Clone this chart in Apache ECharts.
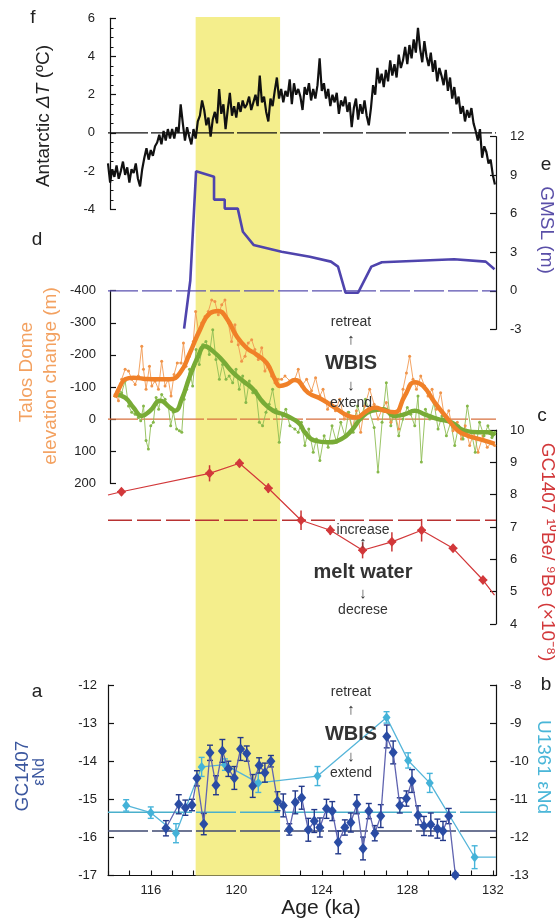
<!DOCTYPE html>
<html>
<head>
<meta charset="utf-8">
<script src="https://cdn.jsdelivr.net/npm/echarts@6/dist/echarts.min.js"></script>
<style>
  html, body { margin: 0; padding: 0; background: #fff; }
  #chart { width: 556px; height: 920px; }
</style>
</head>
<body>
<div id="chart"></div>
<script>
// ---------------- data ----------------
const ageMin = 114;
const ageMax = 132.15;
const bandAge = [118.1, 122.05];

// f: Antarctic dT, one value every 0.1 ka from 114.0 ka
const tempStart = 114.0;
const tempStep = 0.1;
const tempValues = [
  -1.6, -2.6, -1.9, -2.3, -1.7, -2.4, -2.0, -1.5, -2.2, -1.8,
  -2.6, -1.9, -2.1, -1.6, -2.4, -2.8, -1.9, -1.3, -0.8, -1.4,
  -0.9, -1.2, -0.7, -0.5, -0.1, -0.6, 0.1, -0.4, 0.2, -0.3,
  0.2, -0.3, 0.3, 0.0, 1.5, 0.5, -0.4, 0.3, -0.2, -0.6,
  0.2, -0.3, 0.6, 0.9, 1.7, 1.2, 0.4, 0.8, -0.2, 0.7,
  1.1, 0.5, 2.3, 1.0, 1.5, 0.2, 1.2, 2.1, 0.9, 1.4,
  0.8, 1.6, 1.1, 1.7, 1.3, 1.5, 1.9, 1.2, 1.6, 2.0,
  1.4, 3.0, 1.6, 1.9, 1.1, 0.6, 1.8, 1.4, 2.2, 2.9,
  1.8, 2.3, 1.6, 2.2, 1.9, 2.8, 1.5, 2.6, 2.0, 2.3,
  1.9, 1.2, 2.4, 2.0, 2.6, 1.7, 2.3, 1.8, 2.5, 3.9,
  2.2, 2.6, 1.8, 2.3, 1.4, 2.0, 1.6, 2.1, 1.0, 1.7,
  1.4, 1.9, 1.1, 1.6, 0.3, 1.3, 1.8, 0.7, 1.5, 1.0,
  1.7, 0.9, 0.4, 1.3, 2.5, 2.0, 3.4, 2.6, 3.1, 2.4,
  3.3, 2.7, 3.8, 3.0, 3.6, 2.9, 4.1, 3.4, 3.8, 4.5,
  3.6, 4.6, 3.9, 4.9, 4.2, 5.5, 4.4, 3.7, 4.8, 4.0,
  3.5, 4.2, 3.2, 3.8, 2.7, 3.4, 3.0, 2.5, 3.3, 2.2,
  2.9, 1.8, 2.4, 1.5, 1.9, 1.0, 1.4, 0.6, 1.2, 0.8,
  1.3, 0.5, 0.1, -0.4, 0.2, -1.3, -0.7, -1.0, -1.6, -1.4,
  -2.2, -2.7
];

// e: GMSL (m)
const gmsl = [
  [117.56, -2.95], [117.85, 0.8], [118.12, 9.3], [118.96, 8.88], [118.96, 7.1],
  [119.46, 7.1], [119.46, 6.4], [120.07, 6.4], [120.31, 4.6], [120.81, 3.57],
  [122.12, 3.04], [123.44, 2.65], [124.43, 2.27], [124.76, 1.88], [125.11, -0.15],
  [125.7, -0.15], [126.32, 1.88], [126.81, 2.22], [130.19, 2.45], [131.67, 2.27],
  [132.08, 1.67]
];

// d: Talos Dome elevation change (m)
const orangeRaw = [
  [114.33, -77], [114.49, -57], [114.64, -124], [114.80, -155], [114.96, -150], [115.11, -124],
  [115.27, -108], [115.42, -134], [115.58, -227], [115.66, -155], [115.78, -93], [115.94, -165],
  [116.05, -103], [116.20, -119], [116.36, -93], [116.51, -180], [116.67, -103], [116.82, -124],
  [116.95, -72], [117.09, -139], [117.24, -175], [117.42, -175], [117.53, -237], [117.65, -165],
  [117.81, -196], [117.99, -242], [118.10, -335], [118.23, -273], [118.38, -299], [118.54, -320],
  [118.69, -335], [118.85, -371], [119.00, -366], [119.16, -325], [119.32, -356], [119.47, -371],
  [119.63, -299], [119.78, -242], [119.94, -294], [120.09, -232], [120.25, -180], [120.41, -196],
  [120.56, -237], [120.72, -247], [120.87, -217], [121.03, -186], [121.19, -222], [121.34, -150],
  [121.50, -170], [121.65, -134], [121.81, -113], [121.96, -124], [122.12, -124], [122.28, -134],
  [122.51, -119], [122.74, -124], [122.90, -155], [123.05, -103], [123.29, -124], [123.52, -88],
  [123.71, -129], [123.91, -72], [124.06, -93], [124.27, -31], [124.45, -52], [124.64, -26],
  [124.84, -62], [125.05, 0], [125.23, -21], [125.42, 31], [125.62, -26], [125.82, 41],
  [126.01, -41], [126.24, -93], [126.45, -46], [126.63, 0], [126.82, -31], [127.02, -52],
  [127.23, 10], [127.41, -21], [127.60, 31], [127.80, -93], [127.96, -144], [128.11, -196],
  [128.27, -124], [128.43, -93], [128.63, -134], [128.81, -103], [128.97, -72], [129.16, -93],
  [129.36, -31], [129.56, -82], [129.75, 0], [129.94, -26], [130.14, 36], [130.34, 10],
  [130.53, 62], [130.71, 21], [130.92, 82], [131.12, 41], [131.31, 103], [131.54, 52],
  [131.74, 88], [131.96, 72], [132.09, 82]
];
const orangeSmooth = [
  [114.33, -67], [114.55, -100], [114.8, -124], [115.19, -129], [115.65, -126], [116.28, -124],
  [116.9, -124], [117.37, -144], [117.83, -206], [118.3, -278], [118.77, -330], [119.16, -337],
  [119.55, -314], [120.02, -258], [120.48, -222], [120.95, -201], [121.42, -175], [121.81, -124],
  [122.04, -103], [122.35, -108], [122.74, -122], [123.36, -82], [123.99, -62], [124.61, -36],
  [125.23, -10], [125.62, -5], [126.01, -21], [126.48, -36], [126.95, -26], [127.41, -21],
  [127.88, -72], [128.35, -115], [128.74, -103], [129.28, -52], [129.9, 0], [130.37, 36],
  [130.84, 52], [131.46, 64], [132.09, 77]
];
const greenRaw = [
  [114.33, -72], [114.49, -93], [114.64, -82], [114.80, -119], [114.96, -41], [115.11, -21],
  [115.27, -15], [115.42, -5], [115.53, 5], [115.66, -41], [115.78, 67], [115.89, 93],
  [116.00, 21], [116.12, 10], [116.25, -67], [116.37, -31], [116.51, -77], [116.67, -62],
  [116.82, -41], [116.93, 21], [117.06, -21], [117.21, 31], [117.34, 36], [117.45, 41],
  [117.56, -62], [117.68, -93], [117.81, -155], [117.96, -103], [118.12, -217], [118.27, -170],
  [118.43, -232], [118.58, -242], [118.74, -201], [118.90, -278], [119.05, -186], [119.21, -124],
  [119.36, -170], [119.52, -124], [119.67, -134], [119.83, -113], [119.99, -155], [120.14, -93],
  [120.30, -134], [120.45, -52], [120.61, -119], [120.77, -82], [120.92, -88], [121.08, 10],
  [121.23, 21], [121.39, -21], [121.54, -46], [121.70, -93], [121.85, -31], [122.01, 72],
  [122.17, -10], [122.32, -31], [122.51, 21], [122.74, 31], [122.90, 41], [123.05, 10],
  [123.21, 82], [123.39, 31], [123.60, 103], [123.75, 62], [123.91, 129], [124.11, 52],
  [124.30, 88], [124.48, 21], [124.69, 72], [124.89, 10], [125.08, 52], [125.26, -21],
  [125.47, 41], [125.67, -41], [125.86, 0], [126.04, -62], [126.24, -21], [126.45, 26],
  [126.63, 165], [126.82, 10], [127.02, -113], [127.23, 21], [127.41, -21], [127.60, 52],
  [127.80, 0], [128.00, -36], [128.16, -15], [128.35, 21], [128.50, -72], [128.66, 134],
  [128.85, -31], [129.05, 0], [129.25, -52], [129.44, 31], [129.62, -10], [129.83, 52],
  [130.03, 10], [130.22, 82], [130.40, 21], [130.61, 62], [130.81, -41], [131.00, 41],
  [131.18, 103], [131.38, 10], [131.59, 52], [131.77, 21], [131.96, 57], [132.09, 41]
];
const greenSmooth = [
  [114.33, -77], [114.8, -67], [115.19, -36], [115.58, -10], [115.97, -26], [116.44, -57],
  [116.9, -36], [117.14, -26], [117.45, -62], [117.83, -134], [118.22, -196], [118.53, -227],
  [118.92, -211], [119.39, -180], [119.86, -144], [120.33, -118], [120.79, -93], [121.26, -52],
  [121.73, -26], [122.2, -15], [122.66, 0], [122.97, 15], [123.21, 41], [123.67, 67],
  [124.3, 72], [124.92, 62], [125.39, 36], [125.86, -5], [126.32, -26], [126.87, -31],
  [127.41, -10], [127.88, -15], [128.35, -26], [128.81, -15], [129.44, 0], [130.06, 10],
  [130.68, 36], [131.31, 41], [131.77, 41], [132.09, 52]
];

// c: GC1407 10Be/9Be (x1e-8)
const beData = [
  [114.63, 8.09], [118.75, 8.66], [120.15, 8.97], [121.5, 8.2], [123.03, 7.21], [124.4, 6.9],
  [125.91, 6.28], [127.28, 6.54], [128.67, 6.9], [130.14, 6.34], [131.54, 5.36]
];
const beErrY = [0.12, 0.25, 0.12, 0.15, 0.3, 0.15, 0.25, 0.3, 0.35, 0.1, 0.1];
const beErrX = 0.2;
const beLineStart = [114.0, 7.99];
const beLineEnd = [132.08, 4.89];
const beRef = 7.21;

// a: GC1407 eNd
const gcNd = [
  [116.71, -15.76], [117.31, -15.13], [117.62, -15.22], [117.93, -15.15], [118.16, -14.45],
  [118.48, -15.65], [118.77, -13.78], [119.05, -14.63], [119.35, -13.73], [119.63, -14.20],
  [119.91, -14.44], [120.20, -13.68], [120.49, -13.80], [120.77, -14.65], [121.07, -14.11],
  [121.34, -14.30], [121.62, -14.00], [121.93, -15.05], [122.20, -15.16], [122.48, -15.79],
  [122.76, -15.08], [123.06, -14.96], [123.37, -15.80], [123.65, -15.57], [123.91, -15.74],
  [124.22, -15.25], [124.49, -15.31], [124.77, -16.13], [125.08, -15.74], [125.36, -15.61],
  [125.64, -15.13], [125.93, -16.29], [126.20, -15.31], [126.48, -15.89], [126.76, -15.44],
  [127.04, -13.35], [127.34, -13.77], [127.65, -15.16], [127.96, -14.98], [128.22, -14.52],
  [128.50, -15.42], [128.78, -15.70], [129.10, -15.66], [129.41, -15.77], [129.67, -15.83],
  [129.94, -15.44], [130.25, -16.99]
];
const gcNdErr = [
  0.2, 0.25, 0.2, 0.15, 0.2, 0.28, 0.2, 0.25, 0.3, 0.2,
  0.3, 0.3, 0.2, 0.3, 0.2, 0.25, 0.15, 0.25, 0.3, 0.15,
  0.3, 0.3, 0.3, 0.3, 0.25, 0.25, 0.25, 0.3, 0.2, 0.25,
  0.25, 0.3, 0.2, 0.2, 0.3, 0.3, 0.3, 0.2, 0.2, 0.3,
  0.25, 0.25, 0.3, 0.25, 0.25, 0.2, 0.05
];
const gcNdRef = -15.83;

// b: U1361 eNd
const uNd = [
  [114.85, -11.16], [116.0, -11.35], [117.18, -11.89], [118.38, -10.15], [119.47, -10.09],
  [121.03, -10.57], [123.80, -10.39], [127.03, -8.85], [128.04, -9.98], [129.05, -10.57],
  [131.15, -12.52]
];
const uNdErr = [0.15, 0.15, 0.25, 0.25, 0.15, 0.25, 0.25, 0.15, 0.2, 0.25, 0.3];
const uNdEnd = [132.15, -12.52];
const uNdRef = -11.34;

// ---------------- chart ----------------
const FONT = "'Liberation Sans', Arial, Helvetica, sans-serif";
const chart = echarts.init(document.getElementById('chart'), null, { renderer: 'canvas' });

const tempSeries = tempValues.map((v, i) => [+(tempStart + i * tempStep).toFixed(2), v]);

function hLine(y, xi, yi, color, dash, width) {
  return {
    type: 'line', xAxisIndex: xi, yAxisIndex: yi, silent: true, symbol: 'none', z: 3,
    data: [[ageMin, y], [ageMax, y]],
    lineStyle: { color: color, type: dash, width: width }
  };
}

// error bars drawn through the axes
function errorBars(color, cap, lw) {
  return function (params, api) {
    const x = api.value(0), y = api.value(1), ey = api.value(2), ex = api.value(3);
    const st = { stroke: color, lineWidth: lw };
    const a = api.coord([x, y - ey]), b = api.coord([x, y + ey]);
    const kids = [{ type: 'line', shape: { x1: a[0], y1: a[1], x2: b[0], y2: b[1] }, style: st }];
    if (cap) {
      kids.push({ type: 'line', shape: { x1: a[0] - cap, y1: a[1], x2: a[0] + cap, y2: a[1] }, style: st });
      kids.push({ type: 'line', shape: { x1: b[0] - cap, y1: b[1], x2: b[0] + cap, y2: b[1] }, style: st });
    }
    if (ex) {
      const c = api.coord([x - ex, y]), d = api.coord([x + ex, y]);
      kids.push({ type: 'line', shape: { x1: c[0], y1: c[1], x2: d[0], y2: d[1] }, style: st });
    }
    return { type: 'group', children: kids };
  };
}

const axisColor = '#111';
const labelStyle = { fontFamily: FONT, fontSize: 13, color: '#222' };
function yAx(o) {
  return Object.assign({
    type: 'value',
    axisLine: { show: true, lineStyle: { color: axisColor, width: 1.2 } },
    axisTick: { show: true, inside: true, length: 6, lineStyle: { color: axisColor, width: 1.2 } },
    axisLabel: Object.assign({ margin: 14 }, labelStyle),
    splitLine: { show: false }
  }, o);
}
const xHidden = (g) => ({ type: 'value', gridIndex: g, min: ageMin, max: ageMax, show: false });

function txt(x, y, text, size, color, opts) {
  return Object.assign({
    type: 'text', x: x, y: y, silent: true, z: 50,
    style: Object.assign({
      text: text, fill: color, font: (opts && opts.weight ? opts.weight + ' ' : '') + size + 'px ' + FONT,
      align: 'center', verticalAlign: 'middle', textAlign: 'center', textVerticalAlign: 'middle'
    }, opts && opts.style)
  }, opts && opts.el);
}

const option = {
  animation: false,
  backgroundColor: '#fff',
  grid: [
    { left: 108, right: 60, top: 17, height: 858.5 },   // 0 band
    { left: 108, right: 60, top: 18.3, height: 191 },   // 1 f
    { left: 108, right: 60, top: 136.7, height: 192.6 },// 2 e
    { left: 108, right: 60, top: 290.7, height: 192.6 },// 3 d
    { left: 108, right: 60, top: 430, height: 194 },    // 4 c
    { left: 108, right: 60, top: 685, height: 190.5 }   // 5 a/b
  ],
  xAxis: [
    xHidden(0), xHidden(1), xHidden(2), xHidden(3), xHidden(4),
    {
      type: 'value', gridIndex: 5, min: ageMin, max: ageMax, interval: 1,
      axisLine: { show: true, lineStyle: { color: axisColor, width: 1.2 } },
      axisTick: { show: true, inside: true, length: 5, lineStyle: { color: axisColor, width: 1.1 } },
      axisLabel: Object.assign({
        margin: 8, showMaxLabel: false,
        formatter: (v) => (Math.abs(v % 4) < 1e-6 ? String(v) : '')
      }, labelStyle),
      splitLine: { show: false }
    }
  ],
  yAxis: [
    { type: 'value', gridIndex: 0, min: 0, max: 1, show: false },
    yAx({ gridIndex: 1, position: 'left', min: -4, max: 6, interval: 2, offset: -2,
      minorTick: { show: true, splitNumber: 4, length: 3.5, lineStyle: { color: axisColor, width: 1 } },
      axisLabel: Object.assign({ margin: 15 }, labelStyle) }),
    yAx({ gridIndex: 2, position: 'right', min: -3, max: 12, interval: 3 }),
    yAx({ gridIndex: 3, position: 'left', min: -400, max: 200, interval: 100, inverse: true, offset: -2,
      axisLabel: Object.assign({ margin: 14 }, labelStyle) }),
    yAx({ gridIndex: 4, position: 'right', min: 4, max: 10, interval: 1 }),
    yAx({ gridIndex: 5, position: 'left', min: -17, max: -12, interval: 1,
      axisLabel: Object.assign({ margin: 11 }, labelStyle) }),
    yAx({ gridIndex: 5, position: 'right', min: -13, max: -8, interval: 1 })
  ],
  series: [
    // yellow band
    {
      type: 'line', xAxisIndex: 0, yAxisIndex: 0, silent: true, symbol: 'none', z: 0,
      data: [[bandAge[0], 0], [bandAge[1], 0]], lineStyle: { opacity: 0 },
      markArea: { silent: true, itemStyle: { color: '#f4ee8c' },
        data: [[{ xAxis: bandAge[0] }, { xAxis: bandAge[1] }]] }
    },
    // f
    hLine(0, 1, 1, '#111', [40, 3], 1.3),
    {
      type: 'line', xAxisIndex: 1, yAxisIndex: 1, symbol: 'none', z: 5,
      data: tempSeries, lineStyle: { color: '#111', width: 2.2 }
    },
    // e
    hLine(0, 2, 2, '#5a50b0', [30, 4], 1.2),
    {
      type: 'line', xAxisIndex: 2, yAxisIndex: 2, symbol: 'none', z: 5,
      data: gmsl, lineStyle: { color: '#4f44ad', width: 2.6 }
    },
    // d
    hLine(0, 3, 3, '#d8703f', [30, 3], 1.1),
    {
      type: 'line', xAxisIndex: 3, yAxisIndex: 3, z: 4, symbol: 'circle', symbolSize: 3,
      data: orangeRaw, itemStyle: { color: '#f0944a' }, lineStyle: { color: '#f29a52', width: 0.9 }
    },
    {
      type: 'line', xAxisIndex: 3, yAxisIndex: 3, z: 4, symbol: 'circle', symbolSize: 3,
      data: greenRaw, itemStyle: { color: '#86b84a' }, lineStyle: { color: '#8fbd55', width: 0.9 }
    },
    {
      type: 'line', xAxisIndex: 3, yAxisIndex: 3, z: 6, symbol: 'none', smooth: 0.5,
      data: greenSmooth, lineStyle: { color: '#78ab36', width: 4.5 }
    },
    {
      type: 'line', xAxisIndex: 3, yAxisIndex: 3, z: 7, symbol: 'none', smooth: 0.5,
      data: orangeSmooth, lineStyle: { color: '#f08028', width: 4.5 }
    },
    // c
    hLine(beRef, 4, 4, '#b83232', [24, 5], 1.4),
    {
      type: 'custom', xAxisIndex: 4, yAxisIndex: 4, z: 8, silent: true,
      renderItem: errorBars('#c83636', 0, 1.5),
      encode: { x: 0, y: 1 },
      data: beData.map((p, i) => [p[0], p[1], beErrY[i], beErrX])
    },
    {
      type: 'line', xAxisIndex: 4, yAxisIndex: 4, z: 9, symbol: 'diamond', symbolSize: [9, 10],
      data: [{ value: beLineStart, symbol: 'none' }].concat(beData, [{ value: beLineEnd, symbol: 'none' }]),
      itemStyle: { color: '#d2383a' }, lineStyle: { color: '#d2383a', width: 1.2 }
    },
    // a / b
    hLine(uNdRef, 5, 6, '#4ab0cc', [40, 4], 1.5),
    hLine(gcNdRef, 5, 5, '#3f4a72', [40, 4], 1.5),
    {
      type: 'custom', xAxisIndex: 5, yAxisIndex: 6, z: 8, silent: true,
      renderItem: errorBars('#46b4da', 3, 1.4),
      encode: { x: 0, y: 1 },
      data: uNd.map((p, i) => [p[0], p[1], uNdErr[i], 0])
    },
    {
      type: 'line', xAxisIndex: 5, yAxisIndex: 6, z: 9, symbol: 'diamond', symbolSize: [8, 10],
      data: uNd.concat([{ value: uNdEnd, symbol: 'none' }]),
      itemStyle: { color: '#44b2d8' }, lineStyle: { color: '#55b5d9', width: 1.3 }
    },
    {
      type: 'custom', xAxisIndex: 5, yAxisIndex: 5, z: 10, silent: true,
      renderItem: errorBars('#23398a', 3, 1.4),
      encode: { x: 0, y: 1 },
      data: gcNd.map((p, i) => [p[0], p[1], gcNdErr[i] || 0.2, 0])
    },
    {
      type: 'line', xAxisIndex: 5, yAxisIndex: 5, z: 11, symbol: 'diamond', symbolSize: [9, 11],
      data: gcNd, itemStyle: { color: '#2a4ca4' }, lineStyle: { color: '#6064b0', width: 1.3 }
    }
  ],
  graphic: [
    // panel letters
    txt(33, 18, 'f', 19, '#222'),
    txt(546, 165, 'e', 19, '#222'),
    txt(37, 240, 'd', 19, '#222'),
    txt(542, 416, 'c', 19, '#222'),
    txt(37, 692, 'a', 19, '#222'),
    txt(546, 685, 'b', 19, '#222'),
    // axis titles
    txt(44, 116, 'Antarctic {i|ΔT} (ºC)', 19, '#222', {
      el: { rotation: Math.PI / 2 },
      style: { rich: { i: { fontStyle: 'italic', fontSize: 19, fontFamily: FONT, fill: '#222' } } }
    }),
    txt(546, 230, 'GMSL (m)', 19, '#5a4fa8', { el: { rotation: -Math.PI / 2 } }),
    txt(27, 372, 'Talos Dome', 19, '#f3a160', { el: { rotation: Math.PI / 2 } }),
    txt(51, 376, 'elevation change (m)', 19, '#f3a160', { el: { rotation: Math.PI / 2 } }),
    txt(547, 552, 'GC1407 ¹⁰Be/ ⁹Be (×10⁻⁸)', 19, '#d2383a', { el: { rotation: -Math.PI / 2 } }),
    txt(23, 776, 'GC1407', 19, '#3a569e', { el: { rotation: Math.PI / 2 } }),
    txt(40, 772, 'εNd', 16, '#3a569e', { el: { rotation: Math.PI / 2 } }),
    txt(543, 767, 'U1361 εNd', 19, '#4ab6d8', { el: { rotation: -Math.PI / 2 } }),
    txt(321, 908, 'Age (ka)', 21, '#222'),
    // annotations
    txt(351, 322, 'retreat', 14, '#333'),
    txt(351, 340, '↑', 15, '#333'),
    txt(351, 363, 'WBIS', 20, '#333', { weight: 'bold' }),
    txt(351, 386, '↓', 15, '#333'),
    txt(351, 403, 'extend', 14, '#333'),
    txt(363, 530, 'increase', 14, '#333'),
    txt(363, 543, '↑', 15, '#333'),
    txt(363, 572, 'melt water', 20, '#333', { weight: 'bold' }),
    txt(363, 594, '↓', 15, '#333'),
    txt(363, 610, 'decrese', 14, '#333'),
    txt(351, 692, 'retreat', 14, '#333'),
    txt(351, 710, '↑', 15, '#333'),
    txt(351, 734, 'WBIS', 20, '#333', { weight: 'bold' }),
    txt(351, 757, '↓', 15, '#333'),
    txt(351, 773, 'extend', 14, '#333')
  ]
};

chart.setOption(option);
</script>
</body>
</html>
